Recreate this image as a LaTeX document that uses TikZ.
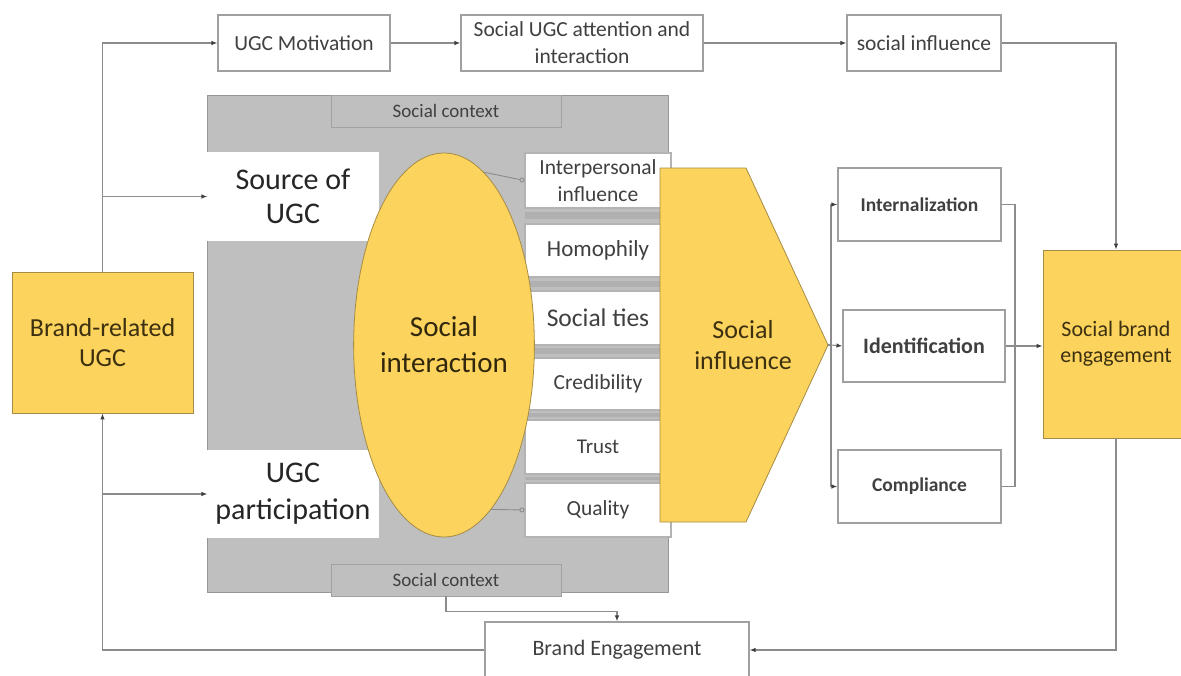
\documentclass[tikz,border=0pt]{standalone}
\usepackage{fontspec}
\setmainfont{Carlito}
\usetikzlibrary{arrows.meta,calc,shapes.geometric}
\definecolor{gold}{RGB}{252,211,92}
\definecolor{goldb}{RGB}{165,140,70}
\definecolor{ctx}{RGB}{191,191,191}
\definecolor{ctxb}{RGB}{150,150,150}
\definecolor{band}{RGB}{176,176,176}
\definecolor{lin}{RGB}{140,140,140}
\definecolor{boxc}{RGB}{160,160,160}
\definecolor{txt}{RGB}{64,64,64}
\definecolor{ytxt}{RGB}{60,48,16}
\newcommand\fsz[2]{\fontsize{#1}{#2}\selectfont}
\begin{document}
\begin{tikzpicture}[x=1pt,y=-1pt,
  box/.style={draw=boxc, fill=white, line width=1.1pt, inner sep=0pt, align=center, text=txt},
  ybox/.style={draw=goldb, fill=gold, line width=0.8pt, inner sep=0pt, align=center, text=ytxt},
  ctxbox/.style={draw=ctx!85!black, fill=ctx, line width=0.6pt, inner sep=0pt, text=txt, font=\fsz{19}{22}},
  colbox/.style={box, minimum width=146pt, draw=boxc!80},
  conn/.style={draw=lin, line width=1.1pt},
  arr/.style={conn, -{Latex[length=6pt,width=4.5pt,color=black!75]}},
  circ/.style={draw=lin, line width=0.9pt, -{Circle[open,length=5pt,width=5pt]}},
  ]
\useasboundingbox (0,0) rectangle (1181,675);

% top row
\node[box, minimum width=172pt, minimum height=56pt, font=\fsz{21.5}{26}] (mot) at (304,43) {UGC Motivation};
\node[box, minimum width=242pt, minimum height=56pt, font=\fsz{21.5}{27}] (sua) at (582,43) {Social UGC attention and\\interaction};
\node[box, minimum width=154pt, minimum height=56pt, font=\fsz{21.5}{26}] (sinf) at (924,43) {social influence};

% social context background
\node[draw=ctxb, fill=ctx, line width=1pt, minimum width=461pt, minimum height=497pt, inner sep=0pt] (bg) at (437.5,343.5) {};
\node[ctxbox, minimum width=230pt, minimum height=32pt] (sct) at (446,111) {Social context};
\node[ctxbox, minimum width=230pt, minimum height=32pt] (scb) at (446,580) {Social context};

% left white boxes
\node[box, draw=white, minimum width=170pt, minimum height=87pt, font=\fsz{30}{34}, text=black!85] (src) at (293,196.5) {Source of\\UGC};
\node[box, draw=white, minimum width=170pt, minimum height=86pt, font=\fsz{30}{37}, text=black!85] (part) at (293,494) {UGC\\participation};

% column boxes with bands
\fill[band] (525,212) rectangle (671,219);
\fill[band] (525,281) rectangle (671,287);
\fill[band] (525,348) rectangle (671,354);
\fill[band] (525,413) rectangle (671,417);
\fill[band] (525,477) rectangle (671,480);
\node[colbox, minimum height=55pt, font=\fsz{21.5}{27}] (ip) at (598,180.5) {Interpersonal\\influence};
\node[colbox, minimum height=53pt, font=\fsz{23}{26}] (hom) at (598,250.5) {Homophily};
\node[colbox, minimum height=54pt, font=\fsz{25.5}{28}] (st) at (598,318) {Social ties};
\node[colbox, minimum height=52pt, font=\fsz{21.5}{26}] (cred) at (598,384) {Credibility};
\node[colbox, minimum height=54pt, font=\fsz{21}{26}] (tru) at (598,447) {Trust};
\node[colbox, minimum height=54pt, font=\fsz{21.5}{26}] (qual) at (598,510) {Quality};

% ellipse
\node[ellipse, draw=goldb, fill=gold, line width=0.8pt, minimum width=178pt, minimum height=384pt, inner sep=0pt, align=center, text=ytxt!80!black, font=\fsz{29}{36}] (si) at (444,345) {Social\\interaction};
\draw[circ] (si.77) -- (ip.west);
\draw[circ] (si.-74) -- (qual.west);

% pentagon social influence
\draw[draw=goldb, fill=gold, line width=0.8pt] (660,168) -- (746,168) -- (828,345) -- (746,522) -- (660,522) -- cycle;
\coordinate (tip) at (828,345);
\node[align=center, text=ytxt, font=\fsz{26}{31}] (sinl) at (743,345) {Social\\influence};

% three processes
\node[box, minimum width=163pt, minimum height=73pt, font=\bfseries\fsz{19.5}{24}] (int) at (919.5,204.5) {Internalization};
\node[box, minimum width=162pt, minimum height=72pt, font=\bfseries\fsz{22}{26}] (idn) at (924,346) {Identification};
\node[box, minimum width=163pt, minimum height=73pt, font=\bfseries\fsz{19.5}{24}] (cmp) at (919.5,486.5) {Compliance};
\coordinate (br) at (831,345);
\coordinate (rb) at (1015,345);

% yellow end boxes
\node[ybox, minimum width=146pt, minimum height=188pt, font=\fsz{22}{26}] (sbe) at (1116,344) {Social brand\\engagement};
\node[ybox, minimum width=181pt, minimum height=141pt, font=\fsz{26}{30}] (bru) at (102.5,342.5) {Brand-related\\UGC};

% brand engagement
\node[box, minimum width=264pt, minimum height=56pt, font=\fsz{22}{26}] (be) at (617,650) {Brand Engagement};

% connectors
\draw[arr] (mot.east) -- (sua.west);
\draw[arr] (sua.east) -- (sinf.west);
\draw[arr] (sinf.east) -| (sbe.north);
\draw[arr] (bru.north) |- (mot.west);
\draw[arr] (bru.north |- src.west) -- (src.west);
\draw[arr] (bru.south |- part.west) -- (part.west);
\draw[arr] (be.west) -| (bru.south);
\draw[arr] (sbe.south) |- (be.east);
\draw[arr] (scb.south) -- ++(0,15) -| (be.north);
\draw[conn] (tip) -- (br);
\draw[arr] (br) -- (idn.west);
\draw[arr] (br) |- (int.west);
\draw[arr] (br) |- (cmp.west);
\draw[conn] (int.east) -| (rb) |- (cmp.east);
\draw[arr] (idn.east) -- (idn.east -| sbe.west);
\end{tikzpicture}
\end{document}
